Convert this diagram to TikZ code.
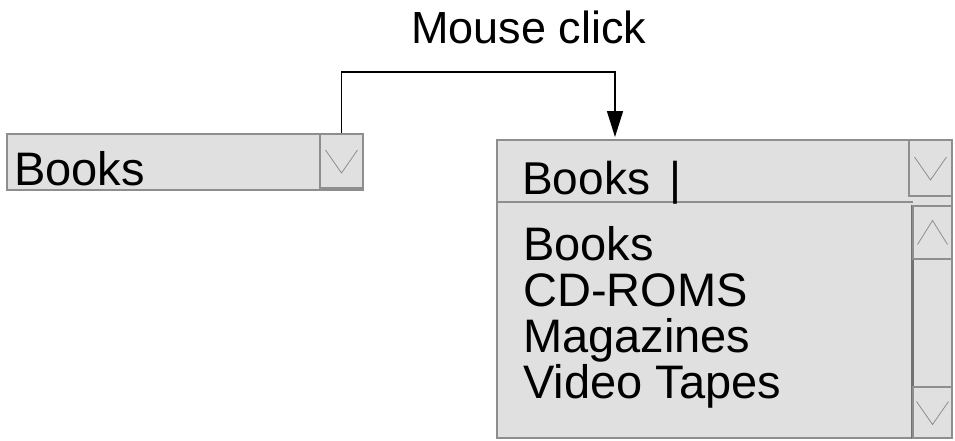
\documentclass[tikz,border=0pt]{standalone}
\usepackage{fontspec}
\setmainfont{Liberation Sans}
\usetikzlibrary{arrows.meta}
\definecolor{boxfill}{HTML}{E0E0E0}
\definecolor{boxline}{HTML}{8E8E8E}

\tikzset{
  downv/.pic={\draw[chev] (-16pt,11pt) -- (0pt,-12pt) -- (16pt,11pt);},
  upv/.pic={\draw[chev] (-15pt,-12pt) -- (0pt,12pt) -- (15pt,-12pt);},
}

\begin{document}
\begin{tikzpicture}[x=1pt,y=-1pt,
  box/.style={draw=boxline,fill=boxfill,line width=1.5pt,inner sep=0pt},
  btn/.style={box,line width=2pt},
  chev/.style={draw=boxline,line width=0.8pt},
  label/.style={inner sep=0pt,anchor=base west,font=\fontsize{47}{47}\selectfont},
  ]
  \useasboundingbox (0,0) rectangle (955,440);

  % closed combo box
  \node[box,minimum width=356pt,minimum height=56pt] (combo) at (185,162) {};
  \node[btn,minimum width=43pt,minimum height=54pt] (btn) at (341.5,161) {};
  \pic at (btn) {downv};
  \node[label] (sel) at (14,185) {Books};

  % opened combo box
  \node[box,minimum width=455pt,minimum height=298pt] (drop) at (724.5,289) {};
  \draw[boxline,line width=1.5pt] (497,202) -- (913,202);
  \node[btn,minimum width=43pt,minimum height=56pt] (hbtn) at (930.5,168) {};
  \pic at (hbtn) {downv};
  \node[label,font=\fontsize{46}{46}\selectfont] (typed) at (522,194) {Books \kern7pt|};

  % scroll bar
  \node[btn,minimum width=39pt,minimum height=232pt] (scroll) at (932.5,322) {};
  \draw[boxline!80!black,line width=3pt] (scroll.north west) -- (scroll.south west);
  \node[btn,minimum width=39pt,minimum height=53pt] (up) at (932.5,232.5) {};
  \node[btn,minimum width=39pt,minimum height=51pt] (down) at (932.5,412.5) {};
  \pic at (up) {upv};
  \pic at (down) {downv};

  \foreach \entry [count=\i] in {Books,CD-ROMS,Magazines,Video Tapes}
    \node[label] (item\i) at (523,214+46*\i) {\entry};

  % mouse click
  \node[label,font=\fontsize{45}{45}\selectfont] (click) at (411,43) {Mouse click};
  \coordinate (bend) at (480,72);
  \coordinate (tip) at (615,137);
  \draw[line width=1.5pt,-{Triangle[length=26pt,width=16pt]}] (btn.north) |- (bend) -| (tip);
\end{tikzpicture}
\end{document}
